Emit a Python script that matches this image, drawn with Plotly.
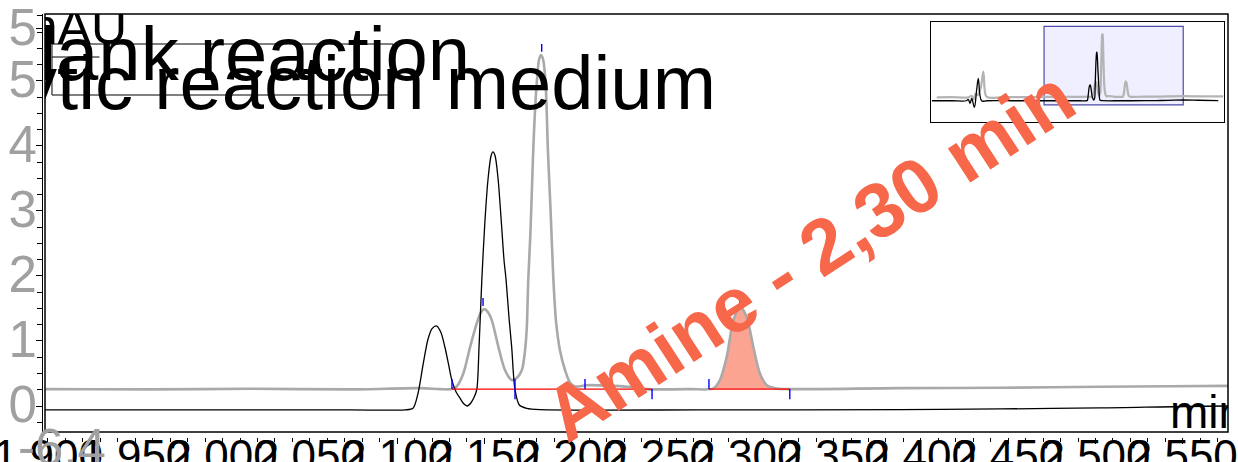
import plotly.graph_objects as go

# ---------------- data ----------------
# time in min, signal in mAU
blank_time = [1.352, 1.45, 1.52, 1.529, 1.538, 1.546, 1.559, 1.570, 1.578, 1.586, 1.595, 1.62, 1.75,
              1.8983, 1.987, 2.073, 2.1045, 2.1091, 2.1120, 2.1150, 2.1177, 2.1200, 2.1227, 2.1251,
              2.1274, 2.1293, 2.1314, 2.1337, 2.1360, 2.1383, 2.1402, 2.1423, 2.1440, 2.1456, 2.1469,
              2.1485, 2.1503, 2.1521, 2.1538, 2.1549, 2.1561, 2.1578, 2.1595, 2.1612, 2.1624, 2.1641,
              2.1656, 2.1675, 2.1700, 2.1742, 2.1818, 2.2735, 2.3880, 2.4453, 2.5026, 2.5759, 2.65, 2.7466]
blank_mau = [-0.6, -0.6, -0.6, 0.6, -2.7, 1.4, -6.0, 8.2, 17.8, 4.1, -0.8, -0.6, -0.6,
             -0.6, -0.6, -0.6, -0.6, -0.35, 2.0, 6.6, 10.3, 11.9, 12.3, 11.3,
             9.0, 6.6, 3.9, 2.2, 1.2, 0.3, 0.0, 0.5, 1.3, 2.5, 9.0,
             19.4, 28.5, 35.0, 38.5, 39.1, 38.5, 35.0, 29.0, 22.5, 19.4, 13.5,
             9.1, 2.5, 0.15, -0.35, -0.55, -0.6, -0.55, -0.45, -0.3, 0.0, -0.2, -0.5]

cat_time = [1.376, 1.45, 1.53, 1.545, 1.555, 1.565, 1.575, 1.590, 1.6025, 1.612, 1.622, 1.70, 1.80,
            1.8983, 1.9585, 2.0158, 2.0730, 2.1131, 2.1246, 2.1313, 2.1341, 2.1379, 2.1418, 2.1456,
            2.1478, 2.1499, 2.1521, 2.1542, 2.1580, 2.1618, 2.1656, 2.1685, 2.1714, 2.1728, 2.1742,
            2.1751, 2.1764, 2.1777, 2.1787, 2.1800, 2.1813, 2.1824, 2.1836, 2.1850, 2.1864, 2.1879,
            2.1895, 2.1910, 2.1933, 2.1962, 2.1990, 2.2019, 2.2086, 2.2238, 2.2353, 2.2430, 2.2678,
            2.2811, 2.2849, 2.2888, 2.2926, 2.2964, 2.3002, 2.3040, 2.3078, 2.3117, 2.3174, 2.3246,
            2.3880, 2.4453, 2.5026, 2.5759, 2.68, 2.771]
cat_mau = [2.2, 2.3, 2.2, 3.5, 0.5, 5.0, 4.0, 10.0, 23.2, 5.0, 2.2, 2.3, 2.4,
           2.6, 2.55, 2.65, 2.55, 2.75, 2.6, 2.6, 3.0, 5.0, 9.1, 12.7,
           14.3, 14.9, 14.4, 13.2, 9.1, 5.5, 4.0, 4.3, 5.5, 7.5, 11.7,
           19.4, 27.0, 37.5, 44.0, 49.8, 53.3, 54.0, 53.3, 49.8, 39.0, 30.0,
           19.4, 13.0, 8.5, 5.5, 3.6, 3.0, 3.2, 3.1, 2.9, 2.6, 2.6,
           2.7, 4.0, 7.6, 13.2, 15.3, 13.7, 9.1, 5.0, 3.2, 2.7, 2.6,
           2.75, 2.8, 2.95, 3.1, 3.0, 2.9]

series_names = ["Blank reaction", "Catalytic reaction medium"]

# peak integration (Catalytic reaction medium)
integration_level = 2.6
baseline_segments = [(2.1314, 2.2460), (2.2786, 2.3249)]
start_marks = [2.1314, 2.1675, 2.2076, 2.2786]
end_marks = [2.1675, 2.2460, 2.3249]
apex_times = [2.1492, 2.1828, 2.2964]
apex_heights = [14.9, 54.0, 15.3]
amine_window = (2.2786, 2.3249)
amine_label = "Amine - 2,30 min"

y_tick_vals = [0, 10, 20, 30, 40, 50, 58]
y_tick_text = ["0", "1", "2", "3", "4", "5", "5"]
y_min_value = -6.4
y_min_label = "-6.4"
x_title = "min"
y_title = "mAU"

# ---------------- styles ----------------
FONT = "Liberation Sans, Arial, sans-serif"
GREY = "#a9a9a9"
MAIN_X = [1.8983, 2.5759]
MAIN_Y = [-4.0, 60.3]

fig = go.Figure()

# amine area fill (between integration baseline and the curve)
amine_t = [t for t in cat_time if amine_window[0] <= t <= amine_window[1]]
amine_v = [v for t, v in zip(cat_time, cat_mau) if amine_window[0] <= t <= amine_window[1]]
fig.add_trace(go.Scatter(x=[amine_window[0], amine_window[1]], y=[integration_level] * 2,
                         mode="lines", line=dict(width=0, color="rgba(0,0,0,0)"),
                         showlegend=False, hoverinfo="skip"))
fig.add_trace(go.Scatter(x=[amine_window[0]] + amine_t + [amine_window[1]],
                         y=[integration_level] + amine_v + [integration_level],
                         mode="lines", line=dict(width=0, shape="spline", color="rgba(0,0,0,0)"),
                         fill="tonexty", fillcolor="#fba492", showlegend=False, hoverinfo="skip"))

# main traces
fig.add_trace(go.Scatter(x=cat_time, y=cat_mau, mode="lines", name=series_names[1],
                         line=dict(color=GREY, width=2.6, shape="spline", smoothing=0.8)))
fig.add_trace(go.Scatter(x=blank_time, y=blank_mau, mode="lines", name=series_names[0],
                         line=dict(color="black", width=1.3, shape="spline", smoothing=0.8)))

# integration baselines (red)
bx, by = [], []
for a, b in baseline_segments:
    bx += [a, b, None]
    by += [integration_level, integration_level, None]
fig.add_trace(go.Scatter(x=bx, y=by, mode="lines", line=dict(color="red", width=1.4),
                         showlegend=False, hoverinfo="skip"))

# integration tick marks (blue)
tick_len = 1.55
mx, my = [], []
for t in start_marks:
    mx += [t, t, None]
    my += [integration_level, integration_level + tick_len, None]
for t in end_marks:
    mx += [t, t, None]
    my += [integration_level, integration_level - tick_len, None]
for t, h in zip(apex_times, apex_heights):
    mx += [t, t, None]
    my += [h + 0.5, h + 1.7, None]
fig.add_trace(go.Scatter(x=mx, y=my, mode="lines", line=dict(color="blue", width=1.4),
                         showlegend=False, hoverinfo="skip"))

# clipped texts inside the plot (legend labels and axis titles)
fig.add_trace(go.Scatter(x=[2.1418, 2.2826], y=[53.1, 48.6], mode="text", text=series_names,
                         textposition="middle left", cliponaxis=True,
                         textfont=dict(family=FONT, size=76, color="black"),
                         showlegend=False, hoverinfo="skip"))
fig.add_trace(go.Scatter(x=[1.9453], y=[57.6], mode="text", text=[y_title],
                         textposition="middle left", cliponaxis=True,
                         textfont=dict(family=FONT, size=50, color="black"),
                         showlegend=False, hoverinfo="skip"))
fig.add_trace(go.Scatter(x=[2.5427], y=[-1.6], mode="text", text=[x_title],
                         textposition="middle right", cliponaxis=True,
                         textfont=dict(family=FONT, size=46, color="black"),
                         showlegend=False, hoverinfo="skip"))

# inset overview traces
fig.add_trace(go.Scatter(x=cat_time, y=cat_mau, mode="lines", xaxis="x2", yaxis="y2",
                         line=dict(color="#b4b4b4", width=2.2, shape="spline"),
                         showlegend=False, hoverinfo="skip"))
fig.add_trace(go.Scatter(x=blank_time, y=blank_mau, mode="lines", xaxis="x2", yaxis="y2",
                         line=dict(color="black", width=1.3, shape="spline"),
                         showlegend=False, hoverinfo="skip"))

shapes = [
    # plot frame
    dict(type="rect", xref="x domain", yref="y domain", x0=0, x1=1, y0=0, y1=1,
         line=dict(color="black", width=1.5), layer="above"),
    # legend box and sample line
    dict(type="rect", xref="x domain", yref="y domain", x0=0.0059, x1=0.2942, y0=0.8062, y1=0.9282,
         line=dict(color="black", width=1), layer="above"),
    dict(type="line", xref="x domain", yref="y domain", x0=0.0059, x1=0.046, y0=0.8971, y1=0.8971,
         line=dict(color="black", width=1), layer="above"),
    # zoom window in inset
    dict(type="rect", xref="x2", yref="y2", x0=MAIN_X[0], x1=MAIN_X[1], y0=MAIN_Y[0], y1=MAIN_Y[1],
         line=dict(color="#4b4ba8", width=1.2), fillcolor="rgba(190,190,255,0.25)", layer="below"),
]

y_min_dom = (y_min_value - MAIN_Y[0]) / (MAIN_Y[1] - MAIN_Y[0])

# the figure is taller than the window so the (cut-off) x tick labels are kept;
# the plotting area keeps its position from the top.
fig.update_layout(
    width=1238, height=520,
    margin=dict(l=42, r=10, t=14, b=83, autoexpand=False),
    paper_bgcolor="white", plot_bgcolor="white",
    showlegend=False,
    font=dict(family=FONT),
    shapes=shapes,
    xaxis=dict(domain=[0.00253, 1], range=MAIN_X, anchor="free", position=0, automargin=False,
               showline=False, showgrid=False, zeroline=False,
               ticks="outside", ticklen=6, tickwidth=1, tickcolor="black",
               tick0=1.9, dtick=0.05, tickformat=".3f", tickangle=0,
               ticklabeloverflow="allow", ticklabelstandoff=-26,
               tickfont=dict(family=FONT, size=44, color="black"),
               minor=dict(ticks="outside", ticklen=3.5, tickcolor="black", dtick=0.01, tick0=1.9)),
    yaxis=dict(domain=[0.01182, 1], range=MAIN_Y, anchor="free", position=0, automargin=False,
               showline=True, linecolor="black", linewidth=1,
               showgrid=False, zeroline=False,
               ticks="outside", ticklen=6, tickcolor="black",
               tickmode="array", tickvals=y_tick_vals, ticktext=y_tick_text,
               ticklabeloverflow="allow", ticklabelstandoff=-11, ticklabelshift=-2,
               tickfont=dict(family=FONT, size=51, color="#a0a0a0"),
               minor=dict(ticks="outside", ticklen=5, tickcolor="black", tickmode="linear",
                          tick0=0, dtick=2.5)),
    xaxis2=dict(domain=[0.7496, 0.9966], anchor="y2", range=[1.3479, 2.7743], automargin=False,
                showline=True, mirror=True, linecolor="black", linewidth=1,
                showticklabels=False, ticks="", showgrid=False, zeroline=False),
    yaxis2=dict(domain=[0.7447, 0.9811], anchor="x2", range=[-18.0, 63.9], automargin=False,
                showline=True, mirror=True, linecolor="black", linewidth=1,
                showticklabels=False, ticks="", showgrid=False, zeroline=False),
    annotations=[
        dict(x=2.3359, y=23.3, xref="x", yref="y", text=amine_label, showarrow=False,
             textangle=-33, font=dict(family=FONT, size=77, color="#f7674a", weight="bold")),
        dict(x=-0.0245, y=y_min_dom, xref="x domain", yref="y domain", text=y_min_label,
             showarrow=False, xanchor="left", yanchor="middle",
             font=dict(family=FONT, size=51, color="#a0a0a0")),
    ],
)

fig.write_html(
    "out.html",
    post_script="document.documentElement.style.overflow='hidden';document.body.style.overflow='hidden';",
)
